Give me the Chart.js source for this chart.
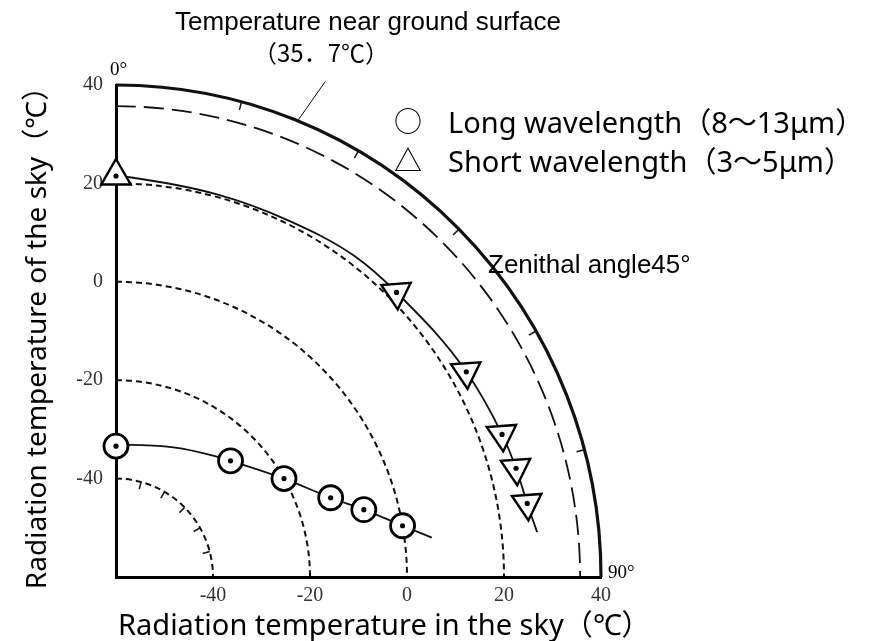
<!DOCTYPE html>
<html>
<head>
<meta charset="utf-8">
<script src="https://cdn.jsdelivr.net/npm/chart.js@4.4.0/dist/chart.umd.min.js"></script>
<style>
  html, body { margin: 0; padding: 0; background: #fff; }
  #wrap { width: 878px; height: 641px; }
</style>
</head>
<body>
<div id="wrap"><canvas id="chart" width="878" height="641"></canvas></div>
<script>
// zenith angle (deg) of each observation and its radiation temperature (°C)
const longAngles = [0, 45, 60, 70, 75, 80];
const longTemps = [-33.4, -26.6, -20, -12.9, -7.1, 0];
const shortAngles = [0, 45, 60, 70, 75, 80];
const shortTemps = [21.5, 21.8, 23.4, 24.7, 25.4, 26.1];

// hand drawn fit lines
const longCurveAngles = [0, 6, 25, 38, 45, 60, 70, 75, 80, 83];
const longCurveTemps = [-33.4, -33, -31, -28.5, -26.6, -20, -12.9, -7.1, 0, 5.6];
const shortCurveAngles = [0, 2, 15, 26, 37, 45, 60, 70, 75, 80, 84];
const shortCurveTemps = [21.5, 21.3, 20.5, 20.7, 21.7, 21.8, 23.4, 24.7, 25.4, 26.1, 27.3];

// reference circles and axis ticks
const centerTemp = -60;
const outerTemp = 40;
const groundTemp = 35.7;
const dottedTemps = [20, 0, -20, -40];
const tickValues = [-40, -20, 0, 20, 40];
const markAngles = [15, 30, 45, 60, 75];

// zenith angle + temperature -> point on the quarter plot
function polar(angle, temp) {
  const r = temp - centerTemp;
  const a = angle * Math.PI / 180;
  return { x: centerTemp + r * Math.sin(a), y: centerTemp + r * Math.cos(a) };
}
function toPoints(angles, temps) {
  return angles.map((a, i) => polar(a, temps[i]));
}

const sans = '"Liberation Sans", Arial, "Noto Sans CJK JP", sans-serif';
const wide = '"Noto Sans", "Noto Sans CJK JP", sans-serif';
const serif = '"Liberation Serif", "Times New Roman", serif';

const polarGrid = {
  id: 'polarGrid',
  beforeDatasetsDraw(chart) {
    const { ctx, scales: { x, y } } = chart;
    const cx = x.getPixelForValue(centerTemp);
    const cy = y.getPixelForValue(centerTemp);
    const pix = p => [x.getPixelForValue(p.x), y.getPixelForValue(p.y)];

    function arc(temp, dash, width) {
      const rx = x.getPixelForValue(temp) - cx;
      const ry = cy - y.getPixelForValue(temp);
      ctx.save();
      ctx.beginPath();
      ctx.setLineDash(dash);
      ctx.lineWidth = width;
      ctx.strokeStyle = '#111';
      ctx.ellipse(cx, cy, rx, ry, 0, -Math.PI / 2, 0);
      ctx.stroke();
      ctx.restore();
    }
    function seg(a, b, width) {
      const p = pix(a), q = pix(b);
      ctx.save();
      ctx.beginPath();
      ctx.lineWidth = width;
      ctx.strokeStyle = '#111';
      ctx.moveTo(p[0], p[1]);
      ctx.lineTo(q[0], q[1]);
      ctx.stroke();
      ctx.restore();
    }

    dottedTemps.forEach(t => arc(t, [6, 4], 2));
    arc(groundTemp, [20, 8], 1.8);
    arc(outerTemp, [], 3.2);

    // small marks every 15 degrees
    markAngles.forEach(a => {
      seg(polar(a, outerTemp), polar(a, outerTemp - 1.7), 1.5);
      seg(polar(a, -40), polar(a, -41.5), 1.5);
    });
    // leader for the ground temperature label
    seg(polar(22, outerTemp), polar(23.2, 49.6), 1);
  },
  afterDraw(chart) {
    const { ctx } = chart;
    ctx.save();
    ctx.fillStyle = '#000';
    ctx.textBaseline = 'alphabetic';

    ctx.font = '26px ' + sans;
    ctx.textAlign = 'center';
    ctx.fillText('Temperature near ground surface', 368, 30);
    ctx.font = '24px "Noto Sans CJK JP", sans-serif';
    ctx.fillText('（35．7℃）', 321, 62);

    ctx.font = '28px "Noto Sans CJK JP", sans-serif';
    ctx.fillText('○', 408, 132);
    ctx.fillText('△', 408, 171);
    ctx.textAlign = 'left';
    ctx.font = '29px ' + wide;
    ctx.fillText('Long wavelength（8～13μm）', 448, 133);
    ctx.fillText('Short wavelength（3～5μm）', 448, 172);

    ctx.font = '26px ' + sans;
    ctx.fillText('Zenithal angle45°', 488, 273);

    // x axis title, wider than the plot area in the original
    ctx.font = '29px ' + wide;
    ctx.fillText('Radiation temperature in the sky（℃）', 118, 635);

    ctx.font = '19px ' + serif;
    ctx.fillText('0°', 110, 75);
    ctx.fillText('90°', 608, 578);
    ctx.restore();
  }
};

const tickFont = { family: serif, size: 20 };
const titleFont = { family: wide, size: 28, lineHeight: 1.2 };

new Chart(document.getElementById('chart'), {
  type: 'scatter',
  data: {
    datasets: [
      {
        label: 'centres',
        data: toPoints(longAngles, longTemps).concat(toPoints(shortAngles, shortTemps)),
        pointRadius: 2.6,
        pointBorderWidth: 0,
        pointBackgroundColor: '#000',
        showLine: false,
        clip: false
      },
      {
        label: 'Long wavelength（8～13μm）',
        data: toPoints(longAngles, longTemps),
        pointStyle: 'circle',
        pointRadius: 12,
        pointBorderWidth: 2.8,
        pointBorderColor: '#000',
        pointBackgroundColor: '#fff',
        showLine: false,
        clip: false
      },
      {
        label: 'Short wavelength（3～5μm）',
        data: toPoints(shortAngles, shortTemps),
        pointStyle: 'triangle',
        pointRadius: 17,
        pointRotation: c => (c.dataIndex === 0 ? 0 : 176),
        pointBorderWidth: 2.4,
        pointBorderColor: '#000',
        pointBackgroundColor: '#fff',
        showLine: false,
        clip: false
      },
      {
        label: 'long fit',
        data: toPoints(longCurveAngles, longCurveTemps),
        showLine: true,
        pointRadius: 0,
        borderColor: '#111',
        borderWidth: 1.8,
        cubicInterpolationMode: 'monotone',
        clip: false
      },
      {
        label: 'short fit',
        data: toPoints(shortCurveAngles, shortCurveTemps),
        showLine: true,
        pointRadius: 0,
        borderColor: '#111',
        borderWidth: 1.8,
        cubicInterpolationMode: 'monotone',
        clip: false
      }
    ]
  },
  options: {
    responsive: false,
    animation: false,
    events: [],
    layout: { padding: { top: 85, right: 277, left: 0, bottom: 0 } },
    plugins: { legend: { display: false }, tooltip: { enabled: false } },
    scales: {
      x: {
        type: 'linear',
        min: centerTemp,
        max: outerTemp,
        afterBuildTicks: s => { s.ticks = tickValues.map(v => ({ value: v })); },
        grid: { display: false, drawTicks: false },
        border: { display: true, color: '#000', width: 3 },
        ticks: { font: tickFont, color: '#333', padding: 7, maxRotation: 0, autoSkip: false },
        title: { display: false },
        afterFit: s => { s.height = 64; }
      },
      y: {
        type: 'linear',
        min: centerTemp,
        max: outerTemp,
        afterBuildTicks: s => { s.ticks = tickValues.map(v => ({ value: v })); },
        grid: { display: false, drawTicks: false },
        border: { display: true, color: '#000', width: 3 },
        ticks: { font: tickFont, color: '#333', padding: 13, autoSkip: false },
        title: { display: true, text: 'Radiation temperature of the sky（℃）', font: titleFont, color: '#000', padding: { top: 21, bottom: 0 } },
        afterFit: s => { s.width = 116; }
      }
    }
  },
  plugins: [polarGrid]
});
</script>
</body>
</html>
